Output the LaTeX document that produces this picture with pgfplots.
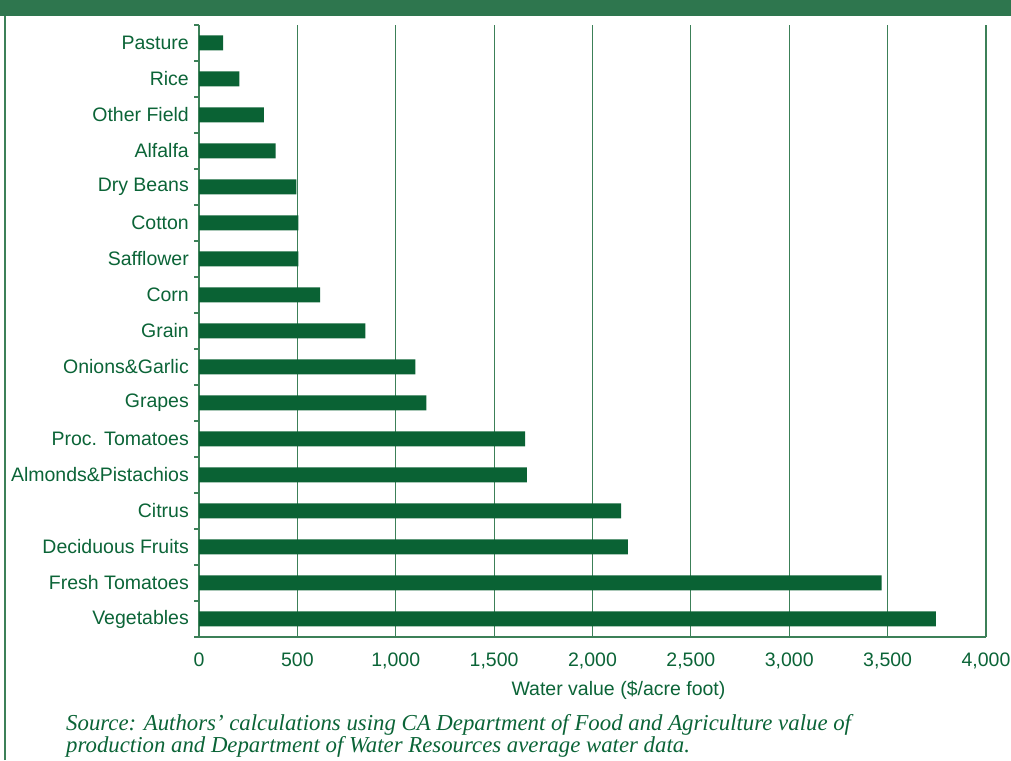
\documentclass[border=0pt]{standalone}
\usepackage{pgfplots}
\pgfplotsset{compat=1.18}
\usepackage{fontspec}
\setmainfont{Liberation Sans}
\newfontfamily\srcfont{Liberation Serif}
\definecolor{txtgreen}{RGB}{11,100,55}
\definecolor{bargreen}{RGB}{10,98,52}
\definecolor{hdrgreen}{RGB}{46,118,78}
\definecolor{gridgreen}{RGB}{60,128,88}
\begin{document}
\begin{tikzpicture}[x=1pt,y=1pt]
\useasboundingbox (0,0) rectangle (1011,760);
\fill[hdrgreen] (0,744) rectangle (1011,760);
\draw[gridgreen, line width=1.6pt] (5,0) -- (5,744);
\begin{axis}[
  at={(199pt,123pt)}, anchor=south west,
  scale only axis, width=787pt, height=612pt,
  xmin=0, xmax=4000, ymin=-0.5, ymax=16.5,
  xbar, bar width=15pt,
  axis x line*=bottom, axis y line*=left,
  axis line style={gridgreen, line width=1.3pt, -},
  xtick={0,500,...,4000},
  xticklabels={0,500,{1,000},{1,500},{2,000},{2,500},{3,000},{3,500},{4,000}},
  ytick={0,...,16},
  yticklabels={Vegetables, Fresh Tomatoes, Deciduous Fruits, Citrus, Almonds\&Pistachios, Proc. Tomatoes, Grapes, Onions\&Garlic, Grain, Corn, Safflower, Cotton, Dry Beans, Alfalfa, Other Field, Rice, Pasture},
  minor ytick={-0.5,0.5,...,16.5},
  major y tick style={draw=none},
  minor y tick style={gridgreen, line width=1.2pt},
  major x tick style={gridgreen, line width=1.2pt},
  ytick align=outside, xtick align=inside,
  major tick length=10pt, minor tick length=5pt,
  xmajorgrids, major x grid style={gridgreen, line width=1.1pt},
  tick label style={text=txtgreen, font=\fontsize{19.5}{21}\selectfont},
  yticklabel style={inner xsep=0pt},
  xticklabel style={inner ysep=0pt, yshift=-16pt},
  xlabel={Water value (\$/acre foot)},
  xlabel style={text=txtgreen, font=\fontsize{19.5}{21}\selectfont, at={(axis description cs:0.533,0)}, anchor=north, inner sep=0pt, yshift=-44pt},
  clip=false,
]
\addplot[fill=bargreen, draw=none] coordinates {
(3745,0) (3470,1) (2180,2) (2145,3) (1667,4) (1657,5) (1155,6) (1100,7)
(845,8) (615,9) (505,10) (505,11) (495,12) (390,13) (330,14) (205,15) (122,16)};
\end{axis}
\node[anchor=base west, inner sep=0pt, text=txtgreen, font=\srcfont\itshape\fontsize{22.8}{24}\selectfont] at (66,30) {Source: Authors’ calculations using CA Department of Food and Agriculture value of};
\node[anchor=base west, inner sep=0pt, text=txtgreen, font=\srcfont\itshape\fontsize{22.8}{24}\selectfont] at (66,8) {production and Department of Water Resources average water data.};
\end{tikzpicture}
\end{document}
